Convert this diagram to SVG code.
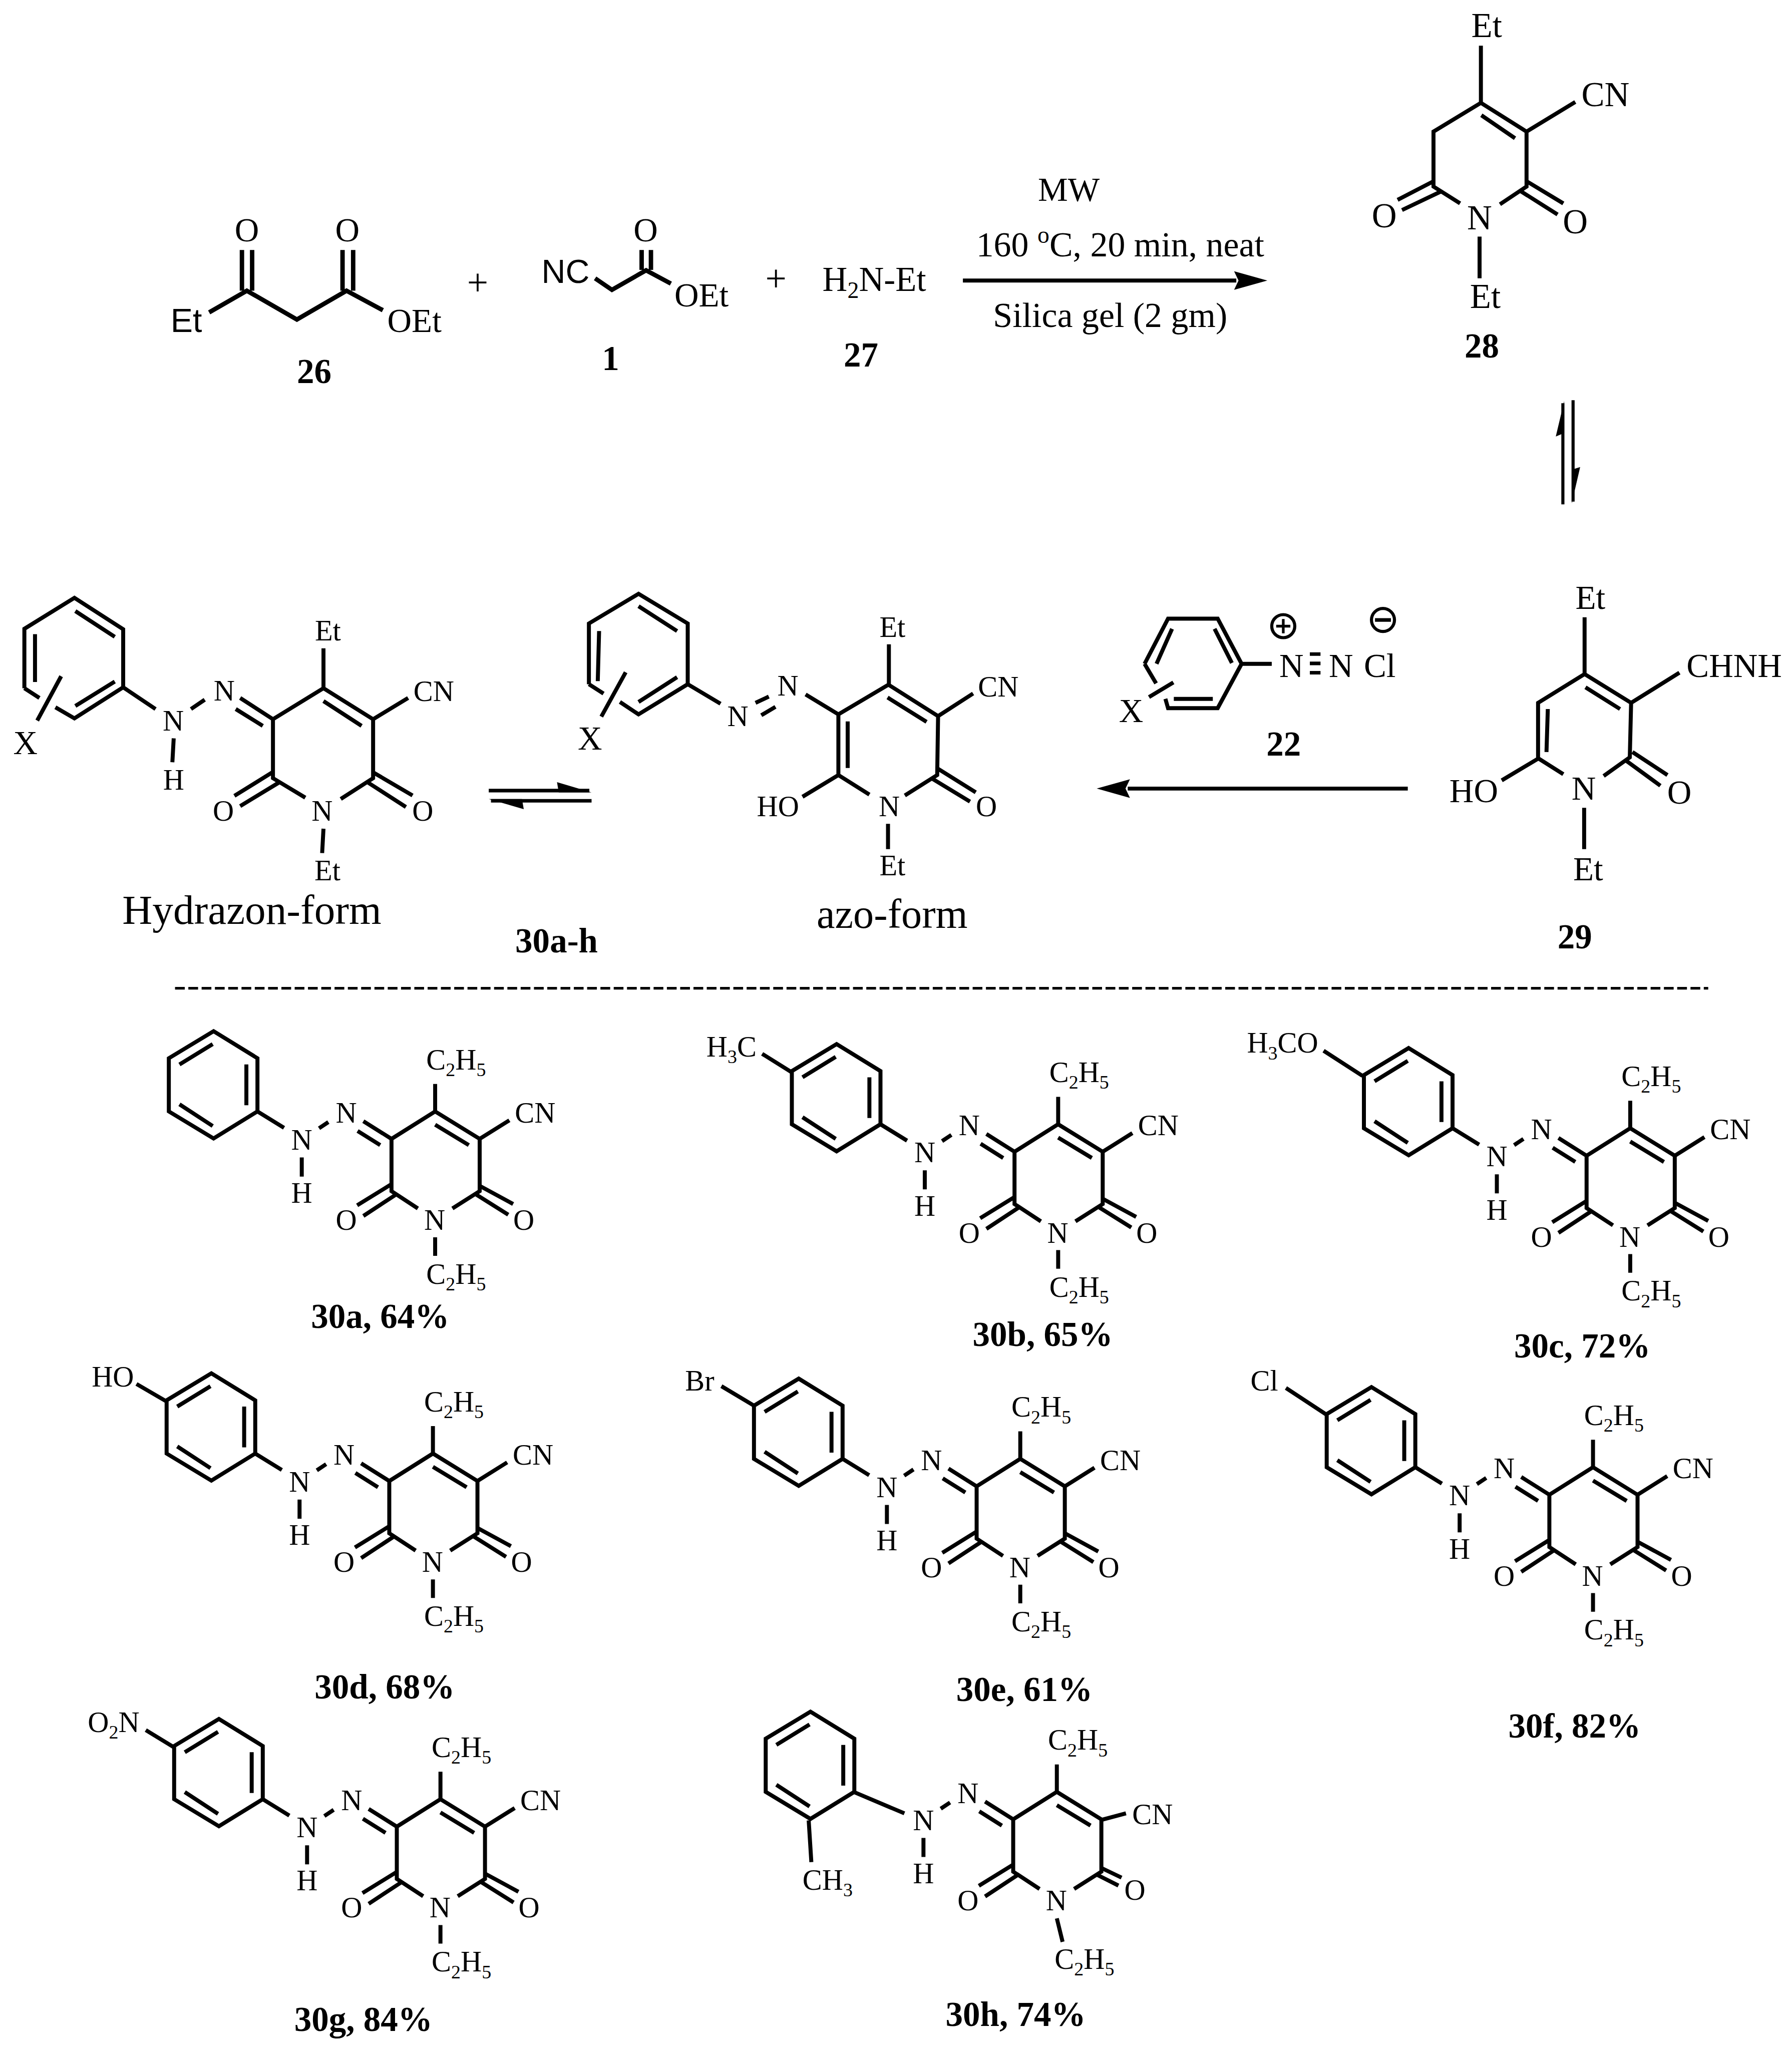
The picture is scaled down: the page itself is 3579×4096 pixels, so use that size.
<svg xmlns="http://www.w3.org/2000/svg" xmlns:xlink="http://www.w3.org/1999/xlink" width="3579" height="4096" viewBox="0 0 3579 4096">
<style>
text{font-family:"Liberation Serif","Times New Roman",serif;fill:#000}
.s{font-family:"Liberation Sans",Arial,sans-serif;font-size:75px}
.b{font-weight:bold;font-size:78px}
.f65{font-size:66px}.f72{font-size:76px}.f28{font-size:78px}.f76{font-size:76px}
.m{text-anchor:middle}
.bond{fill:none;stroke:#000;stroke-width:9;stroke-linejoin:miter}
.line{fill:none;stroke:#000;stroke-width:9}
.eq{fill:none;stroke:#000;stroke-width:7}
.eqh{fill:none;stroke:#000;stroke-width:8}
.head{fill:#000;stroke:none}
</style>
<defs>
<marker id="ah" markerUnits="userSpaceOnUse" markerWidth="80" markerHeight="50" refX="5" refY="25" orient="auto"><path class="head" d="M0 4L75 25L0 46L10 25Z"/></marker>
<path id="ph" d="M482 2327L581 2388V2508L482 2569L381 2508V2388ZM405 2402L480 2356M556 2402V2494M405 2492L480 2541"/>
<path id="core" d="M720 2546L741 2532M681 2612V2655M820 2530L883.5 2570L982 2508L1082.5 2570V2688L1021 2727M807 2552L858 2584M883.5 2570V2688L943 2727M982 2538L1058 2584M982 2446V2508M882 2673L806 2720M893 2696L820 2744"/>
<path id="tail" d="M581 2508L641 2545M1082.5 2570L1149.5 2528M1082.5 2676L1158 2717M1072 2694L1147 2741M982 2792V2834"/>
</defs>
<rect width="3579" height="4096" fill="#fff"/>
<g transform="scale(0.885)">

<g id="connectors">
<path class="line" d="M2173 633H2790" marker-end="url(#ah)"/>
<path class="line" d="M3177 1779.5H2545" marker-end="url(#ah)"/>
<path class="eq" d="M3527 1138V910M3550 903V1132"/>
<path class="head" d="M3530 905L3511 985L3530 977ZM3547 1136L3566 1054L3547 1060Z"/>
<path class="eqh" d="M1103 1784H1330M1335 1807H1108"/>
<path class="head" d="M1335 1788L1257 1765L1261 1788ZM1103 1803L1182 1826L1178 1803Z"/>
<path d="M395 2230H3855" fill="none" stroke="#000" stroke-width="6" stroke-dasharray="22 8"/>
</g>

<g id="m26">
<path class="bond" style="stroke-width:10" d="M472 705L557 656L670 721L782 656L864 700M546 564V656M569 564V656M773 564V656M797 564V656"/>
<text class="s" x="385" y="749">Et</text>
<text class="f76 m" x="557" y="545">O</text>
<text class="f76 m" x="784" y="545">O</text>
<text class="f76" x="874" y="749">OEt</text>
<text class="b m" x="709" y="864">26</text>
</g>
<text id="plus1" class="m" style="font-size:85px" x="1078" y="666">+</text>
<g id="m1">
<path class="bond" style="stroke-width:10" d="M1343 628L1381 654L1458 610L1514 640M1448 564V609M1469 564V609"/>
<text class="s" x="1222" y="638">NC</text>
<text class="f76 m" x="1457" y="545">O</text>
<text class="f76" x="1522" y="692">OEt</text>
<text class="b m" x="1378" y="835">1</text>
</g>
<text id="plus2" class="m" style="font-size:85px" x="1751" y="657">+</text>
<g id="m27">
<text style="font-size:78px" x="1856" y="657">H<tspan dy="15" font-size="52">2</tspan><tspan dy="-15">N-Et</tspan></text>
<text class="b m" x="1943" y="827">27</text>
</g>
<g id="conditions">
<text class="f76 m" x="2412" y="453">MW</text>
<text style="font-size:79px" x="2203" y="578">160 <tspan dy="-30" font-size="54">o</tspan><tspan dy="30">C, 20 min, neat</tspan></text>
<text style="font-size:79px" x="2241" y="738">Silica gel (2 gm)</text>
</g>

<g id="m28">
<path class="bond" d="M3342 103V232M3295 459L3235 421V297L3342 232L3445 297V421L3385 461M3343 260L3419 312M3445 297L3555 230M3235 409L3154 451M3252 432L3164 474M3445 409L3528 459M3428 429L3515 484M3339 534V628"/>
<text class="f28 m" x="3355" y="84">Et</text>
<text class="f28" x="3569" y="240">CN</text>
<text class="f28 m" x="3339" y="518">N</text>
<text class="f28 m" x="3124" y="513">O</text>
<text class="f28 m" x="3555" y="526">O</text>
<text class="f28 m" x="3352" y="695">Et</text>
<text class="b m" x="3344" y="807">28</text>
</g>

<g id="m29">
<path class="bond" d="M3576 1393V1521M3528 1747L3471 1711V1586L3576 1521L3681 1586L3678 1709L3619 1751M3578 1551L3656 1600M3493 1600L3490 1697M3681 1586L3790 1518M3684 1697L3763 1749M3669 1716L3747 1773M3471 1712L3389 1761M3575 1823V1916"/>
<text class="f76 m" x="3589" y="1374">Et</text>
<text class="f76" x="3806" y="1528">CHNH</text>
<text class="f76 m" x="3574" y="1805">N</text>
<text class="f76 m" x="3790" y="1814">O</text>
<text class="f76" x="3271" y="1810">HO</text>
<text class="f76 m" x="3584" y="1986">Et</text>
<text class="b m" x="3554" y="2140">29</text>
</g>

<g id="m22">
<path class="bond" d="M2583 1498L2636 1396H2748L2802 1498L2748 1598H2636L2630 1577M2583 1498L2609 1542M2645 1419L2610 1498M2741 1419L2780 1496M2649 1577H2737M2648 1540L2593 1573M2802 1498H2870"/>
<path d="M2956 1476H2980M2956 1497H2980M2956 1518H2980" fill="none" stroke="#000" stroke-width="8"/>
<circle cx="2896" cy="1413" r="26" fill="none" stroke="#000" stroke-width="7"/>
<path d="M2880 1413H2912M2896 1397V1429" fill="none" stroke="#000" stroke-width="6"/>
<circle cx="3121" cy="1399" r="26" fill="none" stroke="#000" stroke-width="7"/>
<path d="M3103 1399H3139" fill="none" stroke="#000" stroke-width="8"/>
<text class="f72" x="2525" y="1629">X</text>
<text class="f72" x="2887" y="1528">N</text>
<text class="f72" x="2999" y="1528">N</text>
<text class="f72" x="3078" y="1528">Cl</text>
<text class="b m" x="2897" y="1705">22</text>
</g>

<g id="hydrazon">
<path class="bond" d="M55 1553V1419L168 1349L278 1420V1551L168 1621L125 1596M55 1553L89 1575M170 1379L259 1437M79 1431V1539M170 1593L259 1538M138 1526L84 1626M278 1551L351 1600M431 1600L462 1579M542 1575L616 1623L730 1553L842 1623V1756L769 1803M532 1600L593 1638M616 1623V1756L689 1800M730 1582L816 1638M730 1463V1553M842 1623L921 1575M616 1742L529 1796M631 1765L542 1819M844 1744L931 1795M829 1765L916 1821M730 1870L727 1925M392 1666L389 1720"/>
<text class="f72" x="30" y="1702">X</text>
<text class="f65 m" x="391" y="1649">N</text>
<text class="f65 m" x="506" y="1581">N</text>
<text class="f65 m" x="392" y="1782">H</text>
<text class="f65 m" x="740" y="1445">Et</text>
<text class="f65" x="933" y="1582">CN</text>
<text class="f65 m" x="504" y="1852">O</text>
<text class="f65 m" x="727" y="1852">N</text>
<text class="f65 m" x="954" y="1852">O</text>
<text class="f65 m" x="739" y="1986">Et</text>
<text style="font-size:94px" x="276" y="2085">Hydrazon-form</text>
</g>
<text id="label30ah" class="b m" x="1256" y="2149">30a-h</text>

<g id="azo">
<path class="bond" d="M1329 1544V1407L1441 1340L1552 1407V1544L1441 1612L1399 1584M1329 1544L1362 1565M1441 1368L1528 1424M1352 1424L1349 1537M1441 1584L1528 1528M1412 1517L1357 1617M1552 1544L1626 1588M1705 1586L1735 1572M1718 1614L1750 1595M1818 1567L1892 1612L2005 1545L2117 1616L2115 1749L2042 1795M1892 1612V1749L1962 1793M1913 1628V1733M2003 1574L2091 1629M2006 1454V1545M2117 1616L2196 1565M2117 1735L2202 1788M2102 1756L2189 1809M1892 1749L1811 1798M2004 1859V1916"/>
<text class="f72" x="1304" y="1692">X</text>
<text class="f65 m" x="1665" y="1638">N</text>
<text class="f65 m" x="1778" y="1570">N</text>
<text class="f65 m" x="2014" y="1437">Et</text>
<text class="f65" x="2207" y="1572">CN</text>
<text class="f65 m" x="2226" y="1842">O</text>
<text class="f65 m" x="2007" y="1842">N</text>
<text class="f65" x="1708" y="1842">HO</text>
<text class="f65 m" x="2014" y="1975">Et</text>
<text style="font-size:93px" x="1843" y="2094">azo-form</text>
</g>

<g id="m30a">
<use href="#ph" class="bond"/><use href="#core" class="bond"/><use href="#tail" class="bond"/>
<text class="f65 m" x="681" y="2594">N</text><text class="f65 m" x="781.5" y="2533">N</text><text class="f65 m" x="681" y="2714">H</text><text class="f65 m" x="781.5" y="2775">O</text><text class="f65 m" x="981" y="2775">N</text><text class="f65 m" x="1182" y="2775">O</text><text class="f65" x="1162" y="2533">CN</text>
<text class="f65" x="962" y="2413">C<tspan dy="15" font-size="43">2</tspan><tspan dy="-15">H</tspan><tspan dy="15" font-size="43">5</tspan></text>
<text class="f65" x="962" y="2897">C<tspan dy="15" font-size="43">2</tspan><tspan dy="-15">H</tspan><tspan dy="15" font-size="43">5</tspan></text>
<text class="b" x="702" y="2997">30a, 64%</text>
</g>

<g id="m30b">
<g transform="translate(1406,29)">
<use href="#ph" class="bond"/><use href="#core" class="bond"/><use href="#tail" class="bond"/>
<text class="f65 m" x="681" y="2594">N</text><text class="f65 m" x="781.5" y="2533">N</text><text class="f65 m" x="681" y="2714">H</text><text class="f65 m" x="781.5" y="2775">O</text><text class="f65 m" x="981" y="2775">N</text><text class="f65 m" x="1182" y="2775">O</text><text class="f65" x="1162" y="2533">CN</text>
<text class="f65" x="962" y="2413">C<tspan dy="15" font-size="43">2</tspan><tspan dy="-15">H</tspan><tspan dy="15" font-size="43">5</tspan></text>
<text class="f65" x="962" y="2897">C<tspan dy="15" font-size="43">2</tspan><tspan dy="-15">H</tspan><tspan dy="15" font-size="43">5</tspan></text>
</g>
<path class="bond" d="M1720 2378L1787 2420"/>
<text class="f65" x="1594" y="2384">H<tspan dy="15" font-size="43">3</tspan><tspan dy="-15">C</tspan></text>
<text class="b" x="2195" y="3037">30b, 65%</text>
</g>

<g id="m30c">
<g transform="translate(2697,38)">
<use href="#ph" class="bond"/><use href="#core" class="bond"/><use href="#tail" class="bond"/>
<text class="f65 m" x="681" y="2594">N</text><text class="f65 m" x="781.5" y="2533">N</text><text class="f65 m" x="681" y="2714">H</text><text class="f65 m" x="781.5" y="2775">O</text><text class="f65 m" x="981" y="2775">N</text><text class="f65 m" x="1182" y="2775">O</text><text class="f65" x="1162" y="2533">CN</text>
<text class="f65" x="962" y="2413">C<tspan dy="15" font-size="43">2</tspan><tspan dy="-15">H</tspan><tspan dy="15" font-size="43">5</tspan></text>
<text class="f65" x="962" y="2897">C<tspan dy="15" font-size="43">2</tspan><tspan dy="-15">H</tspan><tspan dy="15" font-size="43">5</tspan></text>
</g>
<path class="bond" d="M2987 2371L3075 2428"/>
<text class="f65" x="2814" y="2375.5">H<tspan dy="15" font-size="43">3</tspan><tspan dy="-15">CO</tspan></text>
<text class="b" x="3417" y="3063">30c, 72%</text>
</g>

<g id="m30d">
<g transform="translate(-5,772)">
<use href="#ph" class="bond"/><use href="#core" class="bond"/><use href="#tail" class="bond"/>
<text class="f65 m" x="681" y="2594">N</text><text class="f65 m" x="781.5" y="2533">N</text><text class="f65 m" x="681" y="2714">H</text><text class="f65 m" x="781.5" y="2775">O</text><text class="f65 m" x="981" y="2775">N</text><text class="f65 m" x="1182" y="2775">O</text><text class="f65" x="1162" y="2533">CN</text>
<text class="f65" x="962" y="2413">C<tspan dy="15" font-size="43">2</tspan><tspan dy="-15">H</tspan><tspan dy="15" font-size="43">5</tspan></text>
<text class="f65" x="962" y="2897">C<tspan dy="15" font-size="43">2</tspan><tspan dy="-15">H</tspan><tspan dy="15" font-size="43">5</tspan></text>
</g>
<path class="bond" d="M308 3123L375 3162"/>
<text class="f65" x="207" y="3129">HO</text>
<text class="b" x="710" y="3833">30d, 68%</text>
</g>

<g id="m30e">
<g transform="translate(1320.5,784)">
<use href="#ph" class="bond"/><use href="#core" class="bond"/><use href="#tail" class="bond"/>
<text class="f65 m" x="681" y="2594">N</text><text class="f65 m" x="781.5" y="2533">N</text><text class="f65 m" x="681" y="2714">H</text><text class="f65 m" x="781.5" y="2775">O</text><text class="f65 m" x="981" y="2775">N</text><text class="f65 m" x="1182" y="2775">O</text><text class="f65" x="1162" y="2533">CN</text>
<text class="f65" x="962" y="2413">C<tspan dy="15" font-size="43">2</tspan><tspan dy="-15">H</tspan><tspan dy="15" font-size="43">5</tspan></text>
<text class="f65" x="962" y="2897">C<tspan dy="15" font-size="43">2</tspan><tspan dy="-15">H</tspan><tspan dy="15" font-size="43">5</tspan></text>
</g>
<path class="bond" d="M1628 3128L1700 3171"/>
<text class="f65" x="1546" y="3137.5">Br</text>
<text class="b" x="2158" y="3838">30e, 61%</text>
</g>

<g id="m30f">
<g transform="translate(2613,803)">
<use href="#ph" class="bond"/><use href="#core" class="bond"/><use href="#tail" class="bond"/>
<text class="f65 m" x="681" y="2594">N</text><text class="f65 m" x="781.5" y="2533">N</text><text class="f65 m" x="681" y="2714">H</text><text class="f65 m" x="781.5" y="2775">O</text><text class="f65 m" x="981" y="2775">N</text><text class="f65 m" x="1182" y="2775">O</text><text class="f65" x="1162" y="2533">CN</text>
<text class="f65" x="962" y="2413">C<tspan dy="15" font-size="43">2</tspan><tspan dy="-15">H</tspan><tspan dy="15" font-size="43">5</tspan></text>
<text class="f65" x="962" y="2897">C<tspan dy="15" font-size="43">2</tspan><tspan dy="-15">H</tspan><tspan dy="15" font-size="43">5</tspan></text>
</g>
<path class="bond" d="M2902 3132L2993 3192"/>
<text class="f65" x="2822" y="3137.5">Cl</text>
<text class="b" x="3404" y="3921">30f, 82%</text>
</g>

<g id="m30g">
<g transform="translate(12,1552)">
<use href="#ph" class="bond"/><use href="#core" class="bond"/><use href="#tail" class="bond"/>
<text class="f65 m" x="681" y="2594">N</text><text class="f65 m" x="781.5" y="2533">N</text><text class="f65 m" x="681" y="2714">H</text><text class="f65 m" x="781.5" y="2775">O</text><text class="f65 m" x="981" y="2775">N</text><text class="f65 m" x="1182" y="2775">O</text><text class="f65" x="1162" y="2533">CN</text>
<text class="f65" x="962" y="2413">C<tspan dy="15" font-size="43">2</tspan><tspan dy="-15">H</tspan><tspan dy="15" font-size="43">5</tspan></text>
<text class="f65" x="962" y="2897">C<tspan dy="15" font-size="43">2</tspan><tspan dy="-15">H</tspan><tspan dy="15" font-size="43">5</tspan></text>
</g>
<path class="bond" d="M329 3904L391 3942"/>
<text class="f65" x="198" y="3908">O<tspan dy="15" font-size="43">2</tspan><tspan dy="-15">N</tspan></text>
<text class="b" x="664" y="4583">30g, 84%</text>
</g>

<g id="m30h">
<g transform="translate(1347,1535.5)"><use href="#ph" class="bond"/></g>
<g transform="translate(1403,1535.5)">
<use href="#core" class="bond"/>
<text class="f65 m" x="681" y="2594">N</text><text class="f65 m" x="781.5" y="2533">N</text><text class="f65 m" x="681" y="2714">H</text><text class="f65 m" x="781.5" y="2775">O</text><text class="f65 m" x="981" y="2775">N</text>
<text class="f65" x="962" y="2413">C<tspan dy="15" font-size="43">2</tspan><tspan dy="-15">H</tspan><tspan dy="15" font-size="43">5</tspan></text>
</g>
<path class="bond" d="M1928.6 4044.5L2041 4092M1825 4108L1831 4202M2485 4107L2541 4092M2485 4215L2531 4237M2474.5 4230L2524 4255M2385 4329L2398 4382"/>
<text class="f65" x="1811" y="4264">CH<tspan dy="15" font-size="43">3</tspan></text>
<text class="f65" x="2555" y="4116.5">CN</text>
<text class="f65 m" x="2561" y="4287">O</text>
<text class="f65" x="2380" y="4443">C<tspan dy="15" font-size="43">2</tspan><tspan dy="-15">H</tspan><tspan dy="15" font-size="43">5</tspan></text>
<text class="b" x="2134" y="4572">30h, 74%</text>
</g>

</g>
</svg>
